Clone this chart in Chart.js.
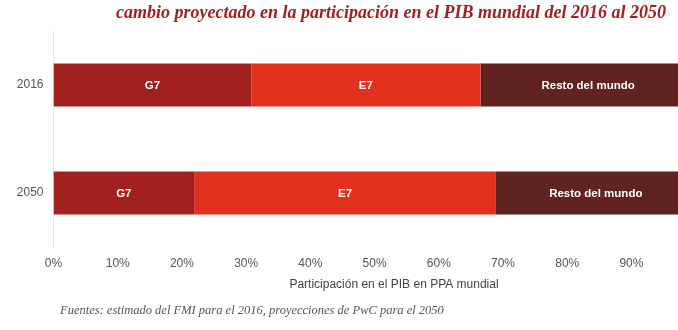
<!DOCTYPE html>
<html>
<head>
<meta charset="utf-8">
<script src="https://cdn.jsdelivr.net/npm/chart.js@4.4.1/dist/chart.umd.min.js"></script>
<style>
  html, body { margin: 0; padding: 0; background: #ffffff; overflow: hidden; }
  #wrap { position: relative; width: 720px; height: 330px; }
</style>
</head>
<body>
<div id="wrap"><canvas id="c" width="720" height="330"></canvas></div>
<script>
// ---- data ----
const years = ["2016", "2050"];
const seriesNames = ["G7", "E7", "Resto del mundo"];
const g7 = [30.8, 21.9];
const e7 = [35.7, 47.0];
const resto = [33.5, 31.1];
const xTicks = [0, 10, 20, 30, 40, 50, 60, 70, 80, 90, 100];
const titleText = "cambio proyectado en la participación en el PIB mundial del 2016 al 2050";
const axisTitleText = "Participación en el PIB en PPA mundial";
const sourceText = "Fuentes: estimado del FMI para el 2016, proyecciones de PwC para el 2050";

const colors = ["#a32020", "#e0301e", "#602320"];

const segLabels = {
  id: "segLabels",
  afterDatasetsDraw(chart) {
    const ctx = chart.ctx;
    ctx.save();
    ctx.fillStyle = "#ffffff";
    ctx.font = "bold 11.5px 'Liberation Sans', Arial, sans-serif";
    ctx.textAlign = "center";
    ctx.textBaseline = "middle";
    chart.data.datasets.forEach((ds, i) => {
      const meta = chart.getDatasetMeta(i);
      meta.data.forEach((bar) => {
        const x = (bar.x + bar.base) / 2;
        ctx.fillText(ds.label, x, bar.y + 1);
      });
    });
    ctx.restore();
  }
};

const texts = {
  id: "texts",
  afterDraw(chart) {
    const ctx = chart.ctx;
    ctx.save();
    // main title
    ctx.fillStyle = "#a32020";
    ctx.font = "italic bold 18px 'Liberation Serif', 'DejaVu Serif', serif";
    ctx.textAlign = "left";
    ctx.textBaseline = "middle";
    ctx.fillText(titleText, 116, 13);
    // axis title
    ctx.fillStyle = "#444444";
    ctx.font = "12px 'Liberation Sans', Arial, sans-serif";
    ctx.textAlign = "center";
    ctx.fillText(axisTitleText, 394, 285);
    // source
    ctx.fillStyle = "#555555";
    ctx.font = "italic 12.5px 'Liberation Serif', 'DejaVu Serif', serif";
    ctx.textAlign = "left";
    ctx.fillText(sourceText, 60, 311);
    ctx.restore();
  }
};

new Chart(document.getElementById("c"), {
  type: "bar",
  data: {
    labels: years,
    datasets: [
      { label: seriesNames[0], data: g7, backgroundColor: colors[0] },
      { label: seriesNames[1], data: e7, backgroundColor: colors[1] },
      { label: seriesNames[2], data: resto, backgroundColor: colors[2] }
    ]
  },
  options: {
    indexAxis: "y",
    responsive: false,
    animation: false,
    layout: { padding: { top: 31, right: 24, left: 0, bottom: 0 } },
    datasets: { bar: { barPercentage: 0.8, categoryPercentage: 0.5, borderWidth: 0 } },
    plugins: { legend: { display: false }, tooltip: { enabled: false }, title: { display: false } },
    scales: {
      x: {
        stacked: true,
        min: 0,
        max: 100,
        afterBuildTicks(scale) { scale.ticks = xTicks.map(v => ({ value: v })); },
        afterFit(scale) { scale.height = 83; },
        grid: { display: false, drawTicks: false },
        border: { display: false },
        ticks: {
          padding: 9,
          color: "#555555",
          font: { family: "'Liberation Sans', Arial, sans-serif", size: 12 },
          callback: (v) => v + "%",
          maxRotation: 0,
          autoSkip: false
        }
      },
      y: {
        stacked: true,
        afterFit(scale) { scale.width = 53.5; },
        grid: { display: false, drawTicks: false },
        border: { display: true, color: "#e6e6e6", width: 1 },
        ticks: {
          padding: 10,
          color: "#555555",
          font: { family: "'Liberation Sans', Arial, sans-serif", size: 12 }
        }
      }
    }
  },
  plugins: [segLabels, texts]
});
</script>
</body>
</html>
